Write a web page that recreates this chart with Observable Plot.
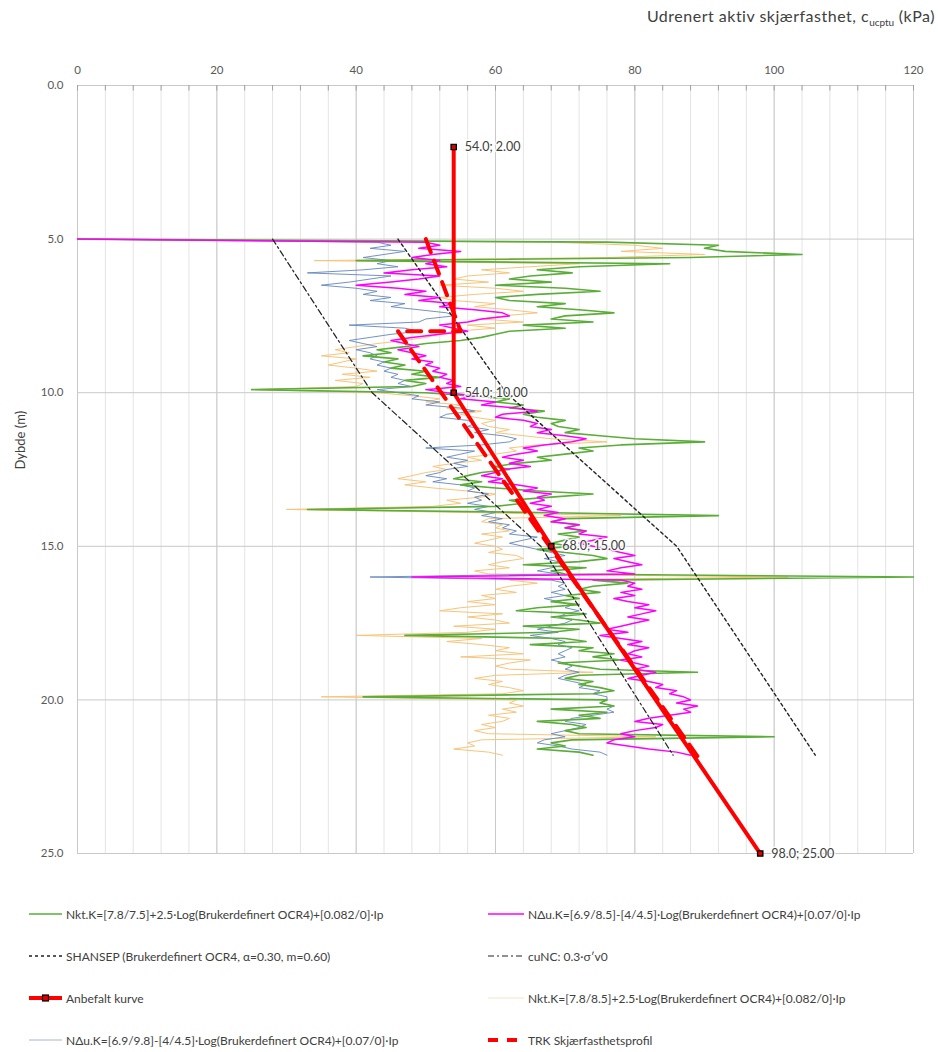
<!DOCTYPE html>
<html><head><meta charset="utf-8">
<script src="https://cdn.jsdelivr.net/npm/d3@7"></script>
<script src="https://cdn.jsdelivr.net/npm/@observablehq/plot@0.6"></script>
<style>
body{margin:0;background:#fff;width:938px;height:1052px;position:relative;overflow:hidden;font-family:Lato,"Open Sans",sans-serif;color:#404040}
#chart{position:absolute;left:0;top:0;z-index:0}
#title{position:absolute;top:6px;right:3px;font-size:16px;letter-spacing:0.5px;color:#404040;white-space:nowrap;z-index:2}
.leg{position:absolute;font-size:12px;display:flex;align-items:center;white-space:nowrap;color:#404040;height:16px;z-index:2}
.leg svg{margin-right:3px;flex:none}
</style></head><body>
<div id="chart"></div>
<div id="title">Udrenert aktiv skjærfasthet, c<sub style="font-size:10px;letter-spacing:0">ucptu</sub> (kPa)</div>
<div id="legend"></div>
<script>
// depth grid of the CPTU profiles (m)
const depth = [
5.0,5.1,5.2,5.3,5.4,5.5,5.6,5.7,5.8,5.9,
6.0,6.1,6.2,6.3,6.4,6.5,6.6,6.7,6.8,6.9,
7.0,7.1,7.2,7.3,7.4,7.5,7.6,7.7,7.8,7.9,
8.0,8.1,8.2,8.3,8.4,8.5,8.6,8.7,8.8,8.9,
9.0,9.1,9.2,9.3,9.4,9.5,9.6,9.7,9.8,9.9,
10.0,10.1,10.2,10.3,10.4,10.5,10.6,10.7,10.8,10.9,
11.0,11.1,11.2,11.3,11.4,11.5,11.6,11.7,11.8,11.9,
12.0,12.1,12.2,12.3,12.4,12.5,12.6,12.7,12.8,12.9,
13.0,13.1,13.2,13.3,13.4,13.5,13.6,13.7,13.8,13.9,
14.0,14.1,14.2,14.3,14.4,14.5,14.6,14.7,14.8,14.9,
15.0,15.1,15.2,15.3,15.4,15.5,15.6,15.7,15.8,15.9,
16.0,16.1,16.2,16.3,16.4,16.5,16.6,16.7,16.8,16.9,
17.0,17.1,17.2,17.3,17.4,17.5,17.6,17.7,17.8,17.9,
18.0,18.1,18.2,18.3,18.4,18.5,18.6,18.7,18.8,18.9,
19.0,19.1,19.2,19.3,19.4,19.5,19.6,19.7,19.8,19.9,
20.0,20.1,20.2,20.3,20.4,20.5,20.6,20.7,20.8,20.9,
21.0,21.1,21.2,21.3,21.4,21.5,21.6,21.7,21.8];

// Nkt.K=[7.8/7.5] (green)
const nktA = [
0,76,92,90,93,104,88,40,85,72,
66,71,65,62,68,60,70,75,66,60,
62,70,66,72,77,70,68,74,64,70,
62,60,58,55,50,47,43,45,41,46,
44,47,45,50,48,52,47,50,48,25,
50,56,62,60,64,62,67,64,66,70,
68,69,72,70,75,80,90,78,72,74,
70,66,68,63,60,62,58,56,54,58,
55,60,66,74,68,62,64,60,33,66,
92,70,68,72,70,73,69,72,70,68,
71,66,70,74,76,72,64,73,68,70,
120,74,79,74,72,75,70,72,68,72,
66,63,73,68,72,75,64,72,68,47,
70,73,65,74,72,77,74,78,69,72,
75,89,72,70,74,72,75,77,74,41,
76,75,77,68,76,72,75,66,71,73,
70,72,100,71,68,70,66,72,74];

// NΔu.K=[6.9/8.5] (magenta)
const nduA = [
0,50,52,49,55,51,48,52,50,53,
48,44,52,49,45,40,46,50,47,52,
49,54,52,57,61,62,58,56,52,54,
56,52,48,45,47,49,46,48,50,48,
51,50,52,51,53,52,54,53,55,50,
53,57,55,60,58,63,66,61,60,64,
66,65,68,66,70,73,71,67,64,66,
63,61,64,62,65,61,60,58,61,59,
63,66,64,68,66,67,65,68,66,69,
67,70,68,72,70,73,72,76,74,72,
74,76,78,80,77,79,81,78,76,80,
48,78,80,79,81,78,80,77,79,82,
80,83,81,79,82,80,78,76,79,75,
78,81,79,82,80,79,81,78,80,82,
80,83,81,79,82,84,83,86,85,87,
88,86,89,87,88,85,82,80,84,83,
80,78,80,77,76,79,82,86,88];

// Nkt.K=[7.8/8.5] (light orange)
const nktB = [
0,68,80,84,78,90,76,34,72,65,
58,62,56,54,59,52,60,64,57,52,
54,60,57,62,66,61,58,64,56,60,
54,52,50,47,43,40,37,39,35,40,
38,36,40,43,38,42,37,41,40,25,
43,48,52,50,55,53,58,55,57,60,
58,59,62,60,64,68,76,66,62,63,
60,56,58,54,51,53,50,48,46,50,
47,51,56,60,58,53,55,51,30,56,
78,59,58,61,60,62,58,61,59,57,
60,61,59,63,64,61,59,62,57,59,
102,62,66,62,60,63,58,60,56,60,
55,52,61,56,60,62,54,60,56,40,
58,53,58,62,60,64,55,65,62,60,
62,74,60,57,61,59,62,64,61,35,
63,62,64,61,63,59,62,61,58,60,
57,59,83,58,56,57,54,59,61];

// NΔu.K=[6.9/9.8] (steel blue)
const nduB = [
0,43,45,42,47,44,41,45,43,46,
41,33,45,42,39,35,40,43,41,45,
42,47,45,49,53,54,50,49,39,47,
49,45,42,39,41,43,40,42,43,42,
44,43,45,44,46,45,47,46,48,43,
46,49,48,52,50,55,57,53,52,56,
57,56,59,57,61,63,62,58,50,57,
55,53,56,54,56,53,52,50,53,51,
55,57,56,59,57,58,56,59,57,60,
58,61,59,62,61,63,62,66,64,62,
64,66,68,70,67,69,70,68,66,69,
42,68,70,69,70,68,70,67,69,71,
70,72,70,69,71,70,68,66,69,65,
68,70,69,71,70,69,70,68,70,71,
70,72,70,69,71,73,72,75,74,76,
76,75,77,76,77,74,71,70,73,72,
70,68,70,67,66,69,71,75,76];

// SHANSEP (Brukerdefinert OCR4)
const shansepDepth = [5, 10, 15, 21.8];
const shansepCu = [46, 61.5, 86, 105.9];
// cuNC: 0.3·σ'v0
const cuncDepth = [5, 10, 15, 21.8];
const cuncCu = [28, 42.3, 66.5, 85.5];
// TRK Skjærfasthetsprofil
const trkDepth = [5, 8, 8, 22];
const trkCu = [50, 55, 46, 89.5];
// Anbefalt kurve
const recDepth = [2, 10, 15, 25];
const recCu = [54, 54, 68, 98];

// axis ticks
const xMajor = [0, 20, 40, 60, 80, 100, 120];
const xMinor = d3.range(0, 121, 4);
const yTicks = [0, 5, 10, 15, 20, 25];

const cpt = depth.map((d, i) => ({depth: d, nktA: nktA[i], nduA: nduA[i], nktB: nktB[i], nduB: nduB[i]}));
const shansep = shansepDepth.map((d, i) => ({depth: d, cu: shansepCu[i]}));
const cunc = cuncDepth.map((d, i) => ({depth: d, cu: cuncCu[i]}));
const trk = trkDepth.map((d, i) => ({depth: d, cu: trkCu[i]}));
const rec = recDepth.map((d, i) => ({depth: d, cu: recCu[i]}));

const C = {
  green: "#5aad38", magenta: "#ff00ff", orange: "#f9c47a", blue: "#6286c0", red: "#ff0000", black: "#222"
};

const chart = Plot.plot({
  width: 938, height: 870,
  marginLeft: 77, marginRight: 25, marginTop: 85, marginBottom: 17,
  style: {fontFamily: "Lato, 'Open Sans', sans-serif", fontSize: "11px", color: "#595959", background: "transparent"},
  x: {domain: [0, 120]},
  y: {domain: [0, 25], reverse: true},
  marks: [
    Plot.gridX(xMinor, {stroke: "#e4e4e4", strokeOpacity: 1}),
    Plot.gridX(xMajor, {stroke: "#c9c9c9", strokeOpacity: 1}),
    Plot.gridY(yTicks, {stroke: "#c9c9c9", strokeOpacity: 1}),
    Plot.ruleX(xMinor, {y1: 0, y2: 0.18, stroke: "#a0a0a0"}),
    Plot.axisX(xMajor, {anchor: "top", tickSize: 0, tickPadding: 12, label: null, fontSize: 11.5}),
    Plot.axisY(yTicks, {anchor: "left", tickSize: 0, tickPadding: 14, label: null, tickFormat: d => d.toFixed(1), fontSize: 11.5}),
    Plot.text(["Dybde (m)"], {frameAnchor: "left", rotate: -90, dx: -57, fontSize: 13, fill: "#404040"}),
    Plot.line(cpt, {x: "nktB", y: "depth", stroke: C.orange, strokeWidth: 1}),
    Plot.line(cpt, {x: "nduB", y: "depth", stroke: C.blue, strokeWidth: 0.9}),
    Plot.line(cpt, {x: "nktA", y: "depth", stroke: C.green, strokeWidth: 1.6}),
    Plot.line(cpt, {x: "nduA", y: "depth", stroke: C.magenta, strokeWidth: 1.5}),
    Plot.line(shansep, {x: "cu", y: "depth", stroke: C.black, strokeWidth: 1.4, strokeDasharray: "3,3"}),
    Plot.line(cunc, {x: "cu", y: "depth", stroke: C.black, strokeWidth: 1.2, strokeDasharray: "6,3,2,3"}),
    Plot.line(trk, {x: "cu", y: "depth", stroke: C.red, strokeWidth: 4, strokeDasharray: "14,9"}),
    Plot.line(rec, {x: "cu", y: "depth", stroke: C.red, strokeWidth: 4}),
    Plot.dot(rec, {x: "cu", y: "depth", symbol: "square", r: 3, fill: "#d00", stroke: "#000", strokeWidth: 1.3}),
    Plot.text(rec, {x: "cu", y: "depth", text: d => d3.format(".1f")(d.cu) + "; " + d3.format(".2f")(d.depth),
      dx: 11, textAnchor: "start", fontSize: 12.5, fill: "#404040", stroke: "white", strokeWidth: 3, strokeOpacity: 0.85})
  ]
});
document.getElementById("chart").appendChild(chart);

// legend (two columns, four rows)
const legendItems = [
  {col: 0, row: 0, label: "Nkt.K=[7.8/7.5]+2.5·Log(Brukerdefinert OCR4)+[0.082/0]·Ip", stroke: C.green, w: 1.5},
  {col: 1, row: 0, label: "NΔu.K=[6.9/8.5]-[4/4.5]·Log(Brukerdefinert OCR4)+[0.07/0]·Ip", stroke: C.magenta, w: 1.5},
  {col: 0, row: 1, label: "SHANSEP (Brukerdefinert OCR4, α=0.30, m=0.60)", stroke: C.black, w: 1.4, dash: "3,3"},
  {col: 1, row: 1, label: "cuNC: 0.3·σ′v0", stroke: C.black, w: 1.2, dash: "6,3,2,3"},
  {col: 0, row: 2, label: "Anbefalt kurve", stroke: C.red, w: 4, marker: true},
  {col: 1, row: 2, label: "Nkt.K=[7.8/8.5]+2.5·Log(Brukerdefinert OCR4)+[0.082/0]·Ip", stroke: "#f3e3c8", w: 1.2},
  {col: 0, row: 3, label: "NΔu.K=[6.9/9.8]-[4/4.5]·Log(Brukerdefinert OCR4)+[0.07/0]·Ip", stroke: "#aab4cf", w: 1},
  {col: 1, row: 3, label: "TRK Skjærfasthetsprofil", stroke: C.red, w: 4, dash: "10,9"}
];
const colX = [28, 487], rowY = [914, 956, 998, 1040];
const leg = document.getElementById("legend");
for (const it of legendItems) {
  const div = document.createElement("div");
  div.className = "leg";
  div.style.left = colX[it.col] + "px";
  div.style.top = (rowY[it.row] - 8) + "px";
  const L = it.col === 0 ? 35 : 38;
  let svg = `<svg width="${L}" height="12"><line x1="1" y1="6" x2="${L - 1}" y2="6" stroke="${it.stroke}" stroke-width="${it.w}"${it.dash ? ` stroke-dasharray="${it.dash}"` : ""}/>`;
  if (it.marker) svg += `<rect x="${L / 2 - 3}" y="3" width="6" height="6" fill="#d00" stroke="#000" stroke-width="1.2"/>`;
  svg += `</svg>`;
  div.innerHTML = svg + `<span></span>`;
  div.querySelector("span").textContent = it.label;
  leg.appendChild(div);
}
</script></body></html>
